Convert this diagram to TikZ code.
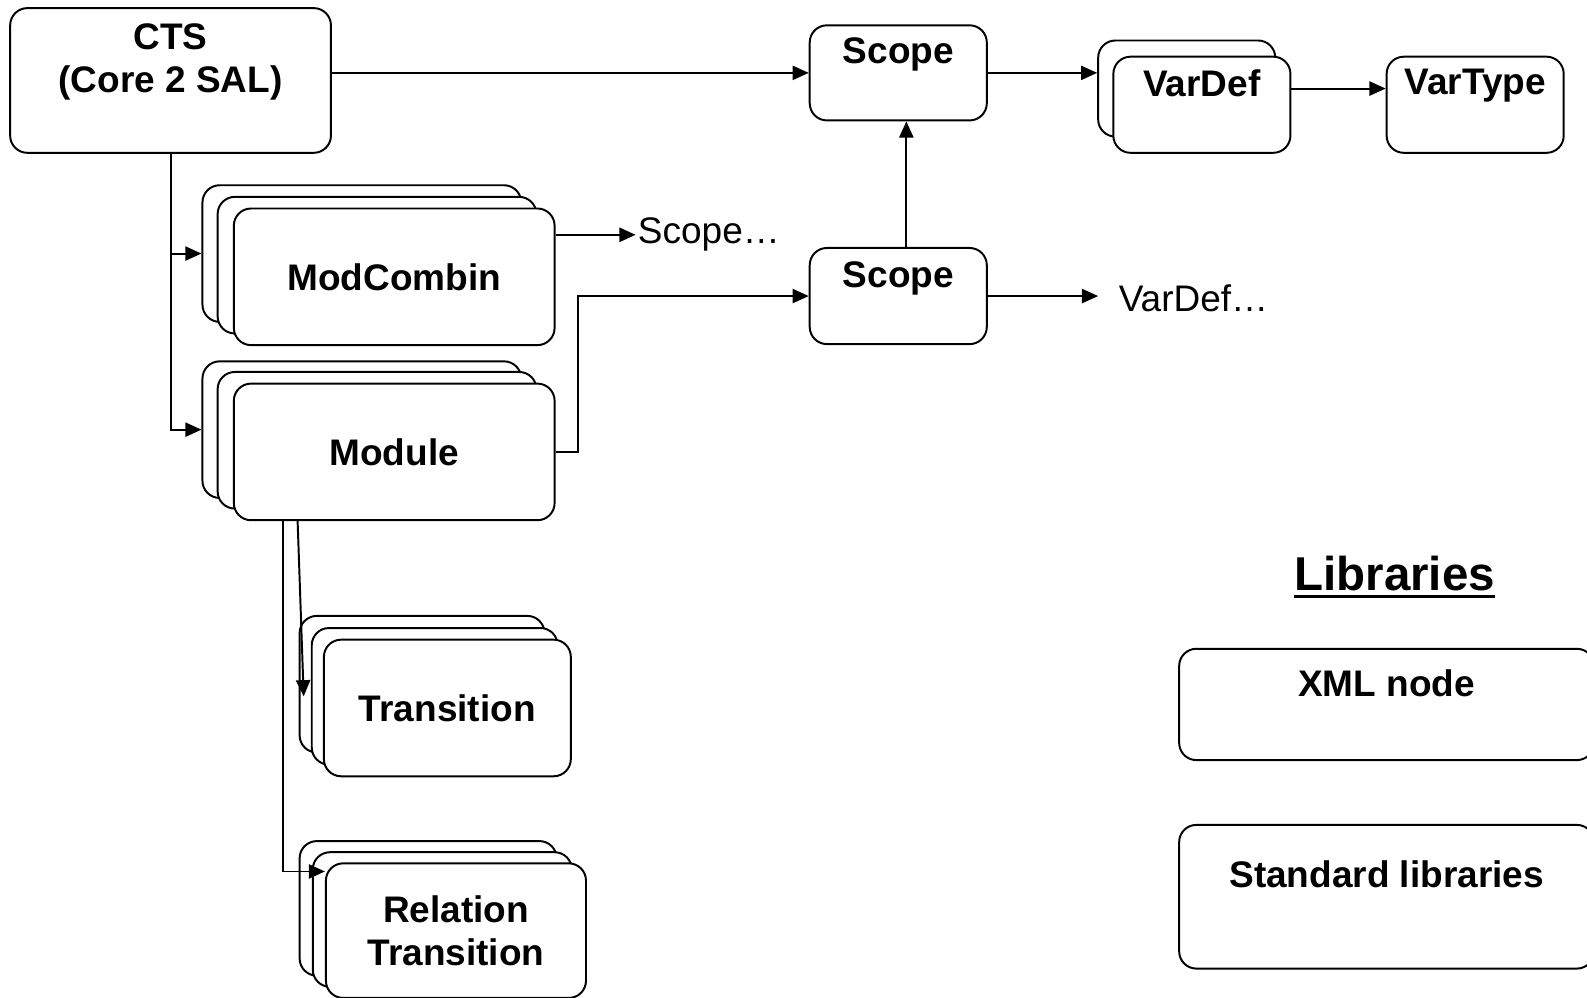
\documentclass[tikz,border=0pt]{standalone}
\usepackage{fontspec}
\setmainfont{Liberation Sans}
\usetikzlibrary{arrows.meta,positioning}
\newcommand{\ulbar}[1]{\setbox0\hbox{#1}\rlap{\usebox0}\rule[-4.5pt]{\wd0}{1.7pt}}

\begin{document}
\begin{tikzpicture}[
  x=0.02cm, y=-0.02cm,
  bx/.style={draw,line width=1.1pt,rounded corners=0.34cm,fill=white,inner sep=0pt,
    align=center,font=\fontsize{20.8}{24.4}\selectfont\bfseries},
  tl/.style={anchor=north,inner sep=0pt,align=center,font=\fontsize{20.8}{24.4}\selectfont\bfseries},
  lbl/.style={inner sep=0pt,font=\fontsize{20.8}{24.4}\selectfont},
  ar/.style={-{Triangle[length=0.32cm,width=0.28cm]},line width=1.1pt}
]
\useasboundingbox (0,0) rectangle (1568,986);

% CTS root and the top scope chain
\node[bx,minimum width=6.34cm,minimum height=2.86cm,
  label={[tl,yshift=-0.32cm]north:CTS\\(Core 2 SAL)}] (cts) at (168.5,79.5) {};
\node[bx,minimum width=3.5cm,minimum height=1.88cm,
  label={[tl,yshift=-0.26cm]north:Scope}] (scopeA) at (887.5,72) {};
\node[bx,minimum width=3.5cm,minimum height=1.9cm] (vdback) at (1172.5,87.5) {};
\node[bx,minimum width=3.5cm,minimum height=1.9cm,
  label={[tl,yshift=-0.26cm]north:VarDef}] (vdfront) at (1187.5,103.5) {};
\node[bx,minimum width=3.5cm,minimum height=1.9cm,
  label={[tl,yshift=-0.26cm]north:VarType}] (vartype) at (1457.5,103.5) {};

% ModCombin stack
\node[bx,minimum width=6.3cm,minimum height=2.7cm] (mcback) at (357.5,250.5) {};
\node[bx,minimum width=6.3cm,minimum height=2.7cm] (mcmid)  at (372.5,262) {};
\node[bx,minimum width=6.34cm,minimum height=2.7cm] (mcfront) at (389.5,273.5) {ModCombin};
\node[lbl,anchor=west,inner xsep=0.04cm] (scopedots) at (628,232) {Scope…};

% Module stack
\node[bx,minimum width=6.3cm,minimum height=2.7cm] (modback) at (357.5,424.5) {};
\node[bx,minimum width=6.3cm,minimum height=2.7cm] (modmid)  at (372.5,435) {};
\node[bx,minimum width=6.34cm,minimum height=2.7cm] (modfront) at (389.5,446.5) {Module};

% second scope
\node[bx,minimum width=3.5cm,minimum height=1.9cm,
  label={[tl,yshift=-0.28cm]north:Scope}] (scopeB) at (887.5,292.5) {};
\node[lbl,anchor=west,inner xsep=0.4cm] (vardefdots) at (1085,295) {VarDef…};

% Transition stack
\node[bx,minimum width=4.84cm,minimum height=2.7cm] (trback) at (417,676) {};
\node[bx,minimum width=4.86cm,minimum height=2.7cm] (trmid)  at (429.5,688) {};
\node[bx,minimum width=4.88cm,minimum height=2.7cm] (trfront) at (442,699.5) {Transition};

% Relation Transition stack
\node[bx,minimum width=5.08cm,minimum height=2.66cm] (rtback) at (423,897.5) {};
\node[bx,minimum width=5.12cm,minimum height=2.66cm] (rtmid)  at (437,908.5) {};
\node[bx,minimum width=5.14cm,minimum height=2.66cm] (rtfront) at (450.5,919.5) {Relation\\Transition};

% legend
\node[inner sep=0pt,font=\fontsize{26.7}{30}\selectfont\bfseries] (libs) at (1378,570) {\ulbar{Libraries}};
\node[bx,minimum width=8.2cm,minimum height=2.2cm,
  label={[tl,yshift=-0.42cm]north:XML node}] (xml) at (1370,696) {};
\node[bx,minimum width=8.2cm,minimum height=2.84cm,
  label={[tl,yshift=-0.72cm]north:Standard libraries}] (stdlib) at (1370,886) {};

% connectors
\draw[ar] (cts.east |- scopeA.west) -- (scopeA.west);
\draw[ar] (scopeA.east) -- (scopeA.east -| vdback.west);
\draw[ar] (vdback.east -| vdfront.east) -- (vdback.east -| vartype.west);
\draw[ar] (cts.south) |- (mcback.west);
\draw[ar] (cts.south) |- (modback.west);
\draw[ar] (mcfront.east |- scopedots.west) -- (scopedots.west);
\draw[ar] (modfront.east) -- ++(22,0) |- (scopeB.west);
\draw[ar] ([xshift=0.16cm]scopeB.north) -- ([xshift=0.16cm]scopeA.south);
\draw[ar] (scopeB.east) -- (scopeB.east -| vardefdots.west);
\draw[ar] ([xshift=1.28cm]modfront.south west) -- ([xshift=-0.14cm]trmid.west);
\draw[ar] ([xshift=1cm]modfront.south west) |- ([yshift=-0.18cm]rtfront.north west);
\end{tikzpicture}
\end{document}
